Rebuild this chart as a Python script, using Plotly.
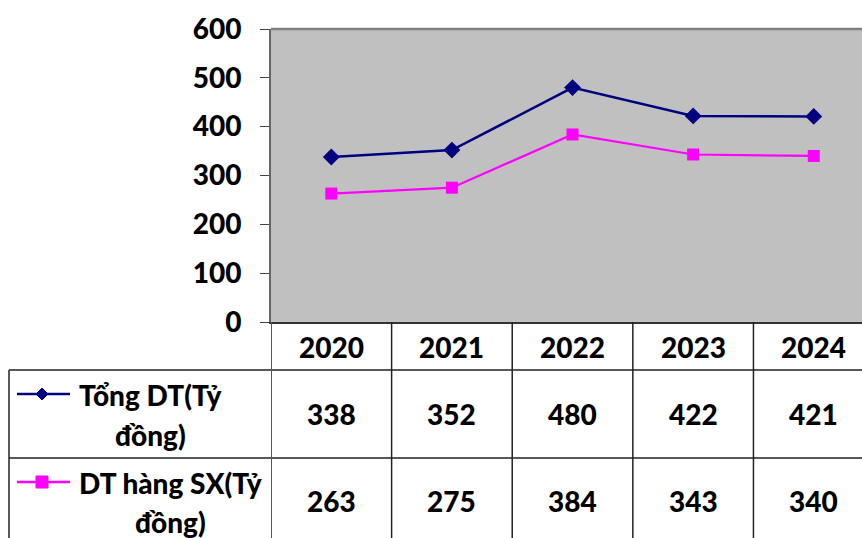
import plotly.graph_objects as go

years = ["2020", "2021", "2022", "2023", "2024"]
tong_dt = [338, 352, 480, 422, 421]
dt_sx = [263, 275, 384, 343, 340]
series_names = ["Tổng DT(Tỷ đồng)", "DT hàng SX(Tỷ đồng)"]
series_colors = ["#000080", "#FF00FF"]
series_symbols = ["diamond", "square"]
y_ticks = [0, 100, 200, 300, 400, 500, 600]

W, H = 862, 538
L, T, B = 271, 29, 322
PH = B - T
PW = W - L

def py(pix):
    return (B - pix) / PH

def px(pix):
    return (pix - L) / PW

FONT = "Lato"
FS = 28
WEIGHT = 900
fig = go.Figure()
xs = list(range(len(years)))
for vals, name, col, sym, lw in zip([tong_dt, dt_sx], series_names, series_colors, series_symbols, [2.5, 2.2]):
    fig.add_trace(go.Scatter(
        x=xs, y=vals, mode="lines+markers", name=name,
        line=dict(color=col, width=lw),
        marker=dict(symbol=sym, size=13 if sym == "diamond" else 12, color=col),
        cliponaxis=False, showlegend=False,
    ))

shapes = []
annotations = []
line_col = "#222222"

def txt(x, y, xref, s):
    return dict(x=x, y=y, xref=xref, yref="paper", text=str(s), showarrow=False,
                xanchor="center", yanchor="middle",
                font=dict(family=FONT, size=FS, color="black", weight=WEIGHT))

# horizontal table lines
for ypix in [370, 458]:
    shapes.append(dict(type="line", xref="paper", yref="paper", x0=px(9), x1=1.02, y0=py(ypix), y1=py(ypix),
                       line=dict(color=line_col, width=1.5)))
# left border
shapes.append(dict(type="line", xref="paper", yref="paper", x0=px(9), x1=px(9), y0=py(370), y1=py(545),
                   line=dict(color=line_col, width=1.5)))
# vertical column lines
for i in range(len(years)):
    shapes.append(dict(type="line", xref="x", yref="paper", x0=i - 0.5, x1=i - 0.5, y0=0, y1=py(545),
                       line=dict(color="#555555" if i == 0 else line_col, width=2 if i == 0 else 1.5)))
# year labels
for i, yr in enumerate(years):
    annotations.append(txt(i, py(347), "x", yr))
# values
for vals, ypix in zip([tong_dt, dt_sx], [414, 501]):
    for i, v in enumerate(vals):
        annotations.append(txt(i, py(ypix), "x", v))
# legend keys & names
for name, col, sym, ky, cx, l1, l2 in zip(series_names, series_colors, series_symbols,
                                         [394, 482], [150, 170], [395, 483], [435, 522]):
    shapes.append(dict(type="line", xref="paper", yref="paper", x0=px(17), x1=px(70), y0=py(ky), y1=py(ky),
                       line=dict(color=col, width=2.5)))
    cxp, cyp = px(42), py(ky)
    dx, dy = 6 / PW, 6 / PH
    if sym == "diamond":
        path = f"M {cxp-dx},{cyp} L {cxp},{cyp+dy} L {cxp+dx},{cyp} L {cxp},{cyp-dy} Z"
    else:
        path = f"M {cxp-dx},{cyp-dy} L {cxp+dx},{cyp-dy} L {cxp+dx},{cyp+dy} L {cxp-dx},{cyp+dy} Z"
    shapes.append(dict(type="path", xref="paper", yref="paper", path=path, fillcolor=col, line=dict(color=col, width=1)))
    first, second = name.rsplit(" ", 1)
    annotations.append(txt(px(cx), py(l1), "paper", first))
    annotations.append(txt(px(cx), py(l2), "paper", second))
# top plot border
shapes.append(dict(type="line", xref="paper", yref="paper", x0=0, x1=1, y0=1, y1=1,
                   line=dict(color="#808080", width=2.5)))

fig.update_layout(
    width=W, height=H,
    margin=dict(l=L, r=0, t=T, b=H - B, pad=0),
    paper_bgcolor="white", plot_bgcolor="#C0C0C0",
    shapes=shapes, annotations=annotations,
    showlegend=False,
    xaxis=dict(range=[-0.5, 4.4], showticklabels=False, showgrid=False, zeroline=False,
               showline=True, linecolor="#333333", linewidth=1.5, ticks=""),
    yaxis=dict(range=[0, 600], tickvals=y_ticks, showgrid=False, zeroline=False,
               showline=True, linecolor="#666666", linewidth=2, ticks="outside", ticklen=9,
               tickcolor="#444444", tickwidth=1.2, ticklabelstandoff=13,
               tickfont=dict(family=FONT, size=FS, color="black", weight=WEIGHT)),
)
fig.write_html("out.html", config={"displayModeBar": False},
               post_script="document.body.style.margin='0';document.body.style.overflow='hidden';")
